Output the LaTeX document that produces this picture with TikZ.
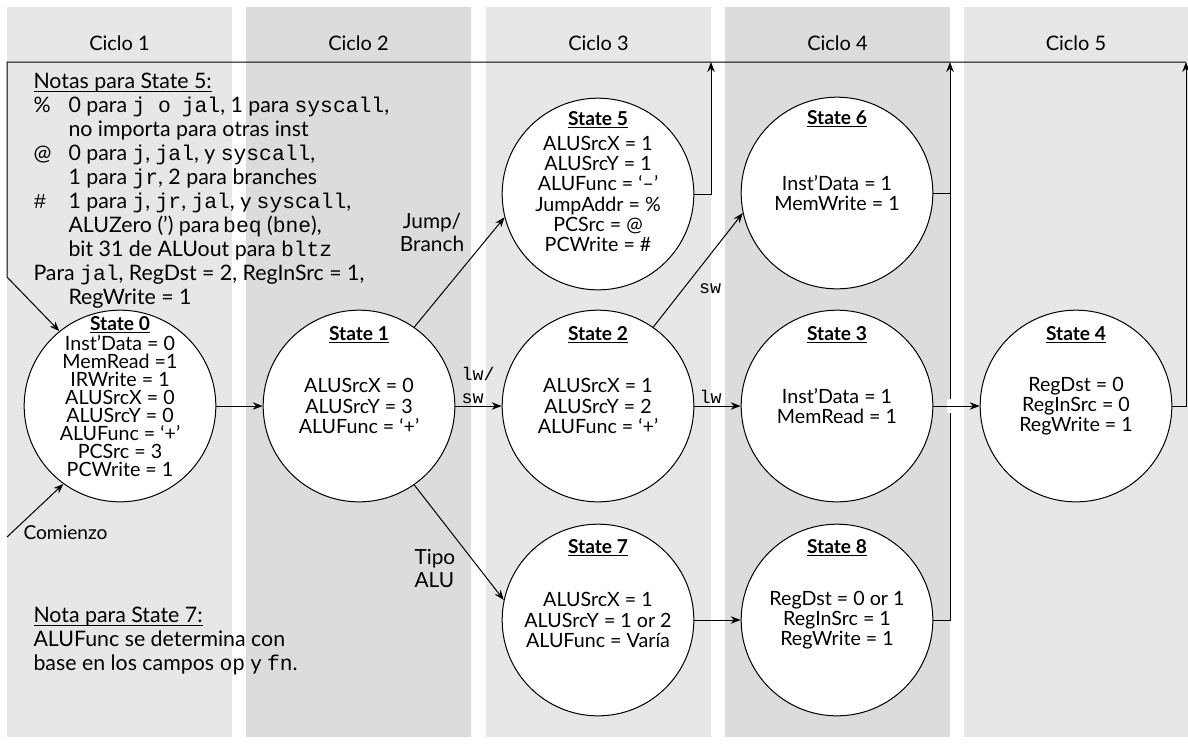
\documentclass[tikz,border=0pt]{standalone}
\usepackage{fontspec}
\setmainfont{Lato}
\setmonofont{Liberation Mono}
\usetikzlibrary{arrows.meta,positioning}

\definecolor{bandlight}{RGB}{230,231,232}
\definecolor{banddark}{RGB}{219,220,222}
\newcommand\stul[1]{\underline{\raisebox{0pt}[\height][0pt]{#1}}}

\begin{document}
\begin{tikzpicture}[x=0.6pt,y=-0.6pt,line width=.6pt,
  state/.style={circle,draw,fill=white,minimum size=115pt,inner sep=0pt,align=center,font=\fontsize{11.8}{12.2}\selectfont},
  statetitle/.style={inner sep=0pt,font=\fontsize{11.5}{12}\selectfont\bfseries},
  cyc/.style={inner sep=0pt,font=\fontsize{12}{13}\selectfont},
  note/.style={anchor=north west,inner sep=0pt,align=left,font=\fontsize{12.8}{14.4}\selectfont},
  lbl/.style={inner sep=0pt,font=\fontsize{12.5}{13.8}\selectfont},
  arr/.style={-{Stealth[length=6pt,width=4.5pt]}}]
\path[use as bounding box] (0,0) rectangle (1188,744);
% bands for the five cycles
\fill[bandlight] (7,7) rectangle (232,737);
\fill[banddark] (246,7) rectangle (471,737);
\fill[bandlight] (486,7) rectangle (711,737);
\fill[banddark] (725,7) rectangle (950,737);
\fill[bandlight] (964,7) rectangle (1188,737);
\node[cyc] (cy1) at (119.5,43) {Ciclo 1};
\node[cyc] (cy2) at (358.5,43) {Ciclo 2};
\node[cyc] (cy3) at (598.5,43) {Ciclo 3};
\node[cyc] (cy4) at (837.5,43) {Ciclo 4};
\node[cyc] (cy5) at (1076,43) {Ciclo 5};
% notes
\node[note] (n5) at (33,73) {\stul{Notas para State 5:}\\
\makebox[21pt][l]{\%}0 para \texttt{j o}\ \ \texttt{jal}, 1 para \texttt{syscall},\\
\hspace*{21pt}no importa para otras inst\\
\makebox[21pt][l]{@}0 para \texttt{j}, \texttt{jal}, y \texttt{syscall},\\
\hspace*{21pt}1 para \texttt{jr}, 2 para branches\\
\makebox[21pt][l]{\texttt{\#}}1 para \texttt{j}, \texttt{jr}, \texttt{jal}, y \texttt{syscall},\\
\hspace*{21pt}ALUZero (’) para\,\texttt{beq} (\texttt{bne}),\\
\hspace*{21pt}bit 31 de ALUout para \texttt{bltz}\\
Para \texttt{jal}, RegDst = 2, RegInSrc = 1,\\
\hspace*{21pt}RegWrite = 1};
\node[note] (n7) at (33,607) {\stul{Nota para State 7:}\\
ALUFunc se determina con\\
base en los campos \texttt{op} y \texttt{fn}.};
% states
\node[state,font=\fontsize{11.8}{10.8}\selectfont] (s0) at (120,406) {Inst’Data = 0\\MemRead =1\\IRWrite = 1\\ALUSrcX = 0\\ALUSrcY = 0\\ALUFunc = ‘+’\\PCSrc = 3\\PCWrite = 1};
\node[state] (s1) at (359,406) {ALUSrcX = 0\\ALUSrcY = 3\\ALUFunc = ‘+’};
\node[state] (s2) at (598,406) {ALUSrcX = 1\\ALUSrcY = 2\\ALUFunc = ‘+’};
\node[state] (s3) at (837,406) {Inst’Data = 1\\MemRead = 1};
\node[state] (s4) at (1076,406) {RegDst = 0\\RegInSrc = 0\\RegWrite = 1};
\node[state] (s5) at (598,194) {ALUSrcX = 1\\ALUSrcY = 1\\ALUFunc = ‘–’\\JumpAddr = \%\\PCSrc = @\\PCWrite = \#};
\node[state] (s6) at (837,193) {Inst’Data = 1\\MemWrite = 1};
\node[state] (s7) at (598,620) {ALUSrcX = 1\\ALUSrcY = 1 or 2\\ALUFunc = Varía};
\node[state] (s8) at (837,620) {RegDst = 0 or 1\\RegInSrc = 1\\RegWrite = 1};
\node[statetitle] (t0) at ([shift={(0,-81)}]s0.center) {\stul{State 0}};
\node[statetitle] (t1) at ([shift={(0,-71)}]s1.center) {\stul{State 1}};
\node[statetitle] (t2) at ([shift={(0,-71)}]s2.center) {\stul{State 2}};
\node[statetitle] (t3) at ([shift={(0,-71)}]s3.center) {\stul{State 3}};
\node[statetitle] (t4) at ([shift={(0,-71)}]s4.center) {\stul{State 4}};
\node[statetitle] (t5) at ([shift={(0,-74)}]s5.center) {\stul{State 5}};
\node[statetitle] (t6) at ([shift={(0,-74)}]s6.center) {\stul{State 6}};
\node[statetitle] (t7) at ([shift={(0,-72)}]s7.center) {\stul{State 7}};
\node[statetitle] (t8) at ([shift={(0,-72)}]s8.center) {\stul{State 8}};
% return lines to state 0
\coordinate (c5) at (711,62);
\coordinate (c6) at (950,62);
\coordinate (c4) at (1186,62);
\coordinate (tl) at (7,62);
\coordinate (bl) at (7,277);
\coordinate (go) at (7,537);
\draw[arr] (s5.east) -| (c5);
\draw[arr] (s8.east) -| (c6);
\draw (s6.east) -- (s6.east -| c6);
\draw[arr] (s4.east) -| (c4);
\draw[arr] (c4) -- (tl) -- (bl) -- (s0.129);
\draw[arr] (go) -- (s0.234);
\node[lbl,anchor=west,font=\fontsize{11.5}{12}\selectfont] (start) at (23,533) {Comienzo};
% transitions
\draw[arr] (s0) -- (s1);
\draw[arr] (s1) -- (s2);
\draw[arr] (s2) -- (s3);
\fill[white] (947,399) rectangle (953,413);
\draw[arr] (s3) -- (s4);
\draw[arr] (s7) -- (s8);
\draw[arr] (s1.55) -- (s5.194);
\draw[arr] (s1.-55) -- (s7.168);
\draw[arr] (s2.55) -- (s6.192);
\node[lbl,align=center] (jb) at (432,232) {Jump/\\Branch};
\node[lbl,align=left,anchor=west] (tipo) at (414,568) {Tipo\\ALU};
\node[lbl,align=left,anchor=west,font=\fontsize{11}{13.8}\ttfamily] (lwsw) at (461,385) {lw/\\sw};
\node[lbl,anchor=west,font=\fontsize{11}{12}\ttfamily] (lw) at (699,397) {lw};
\node[lbl,font=\fontsize{11}{12}\ttfamily] (sw) at (710,289) {sw};
\end{tikzpicture}
\end{document}
